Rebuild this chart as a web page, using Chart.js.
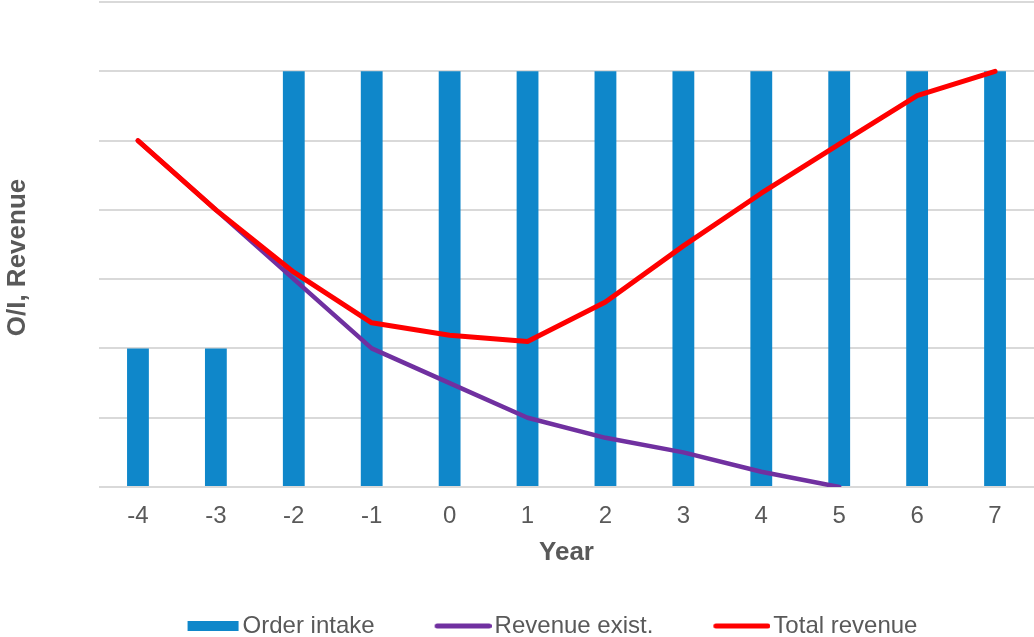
<!DOCTYPE html>
<html lang="en">
<head>
<meta charset="utf-8">
<title>Order intake and revenue</title>
<script src="https://cdn.jsdelivr.net/npm/chart.js@4.4.1/dist/chart.umd.min.js"></script>
<style>
    html, body { margin: 0; padding: 0; background: #fff; }
    #chart { display: block; }
</style>
</head>
<body>
<canvas id="chart" width="1034" height="637"></canvas>
<script>
    // data (y axis has no labels, gridlines = 1 unit)
    var years = ['-4', '-3', '-2', '-1', '0', '1', '2', '3', '4', '5', '6', '7'];
    var orderIntake = [2, 2, 6, 6, 6, 6, 6, 6, 6, 6, 6, 6];
    var revenueExist = [5, 4, 3, 2, 1.5, 1, 0.71, 0.5, 0.22, 0, null, null];
    var totalRevenue = [5, 4, 3.1, 2.37, 2.19, 2.1, 2.67, 3.48, 4.24, 4.95, 5.65, 6];

    var textColor = '#595959';
    var gridColor = '#d9d9d9';
    var fontFamily = "'Liberation Sans', Arial, sans-serif";

    // legend keys: a wide box for the bars, a short thick line for the lines
    function makeKey(kind, color) {
        var c = document.createElement('canvas');
        c.width = 118;
        c.height = 12;
        var g = c.getContext('2d');
        if (kind === 'box') {
            g.fillStyle = color;
            g.fillRect(66, 1, 51, 10);
        } else {
            g.strokeStyle = color;
            g.lineWidth = 5;
            g.lineCap = 'round';
            g.beginPath();
            g.moveTo(63.5, 6);
            g.lineTo(115.5, 6);
            g.stroke();
        }
        return c;
    }

    var keys = [
        makeKey('box', '#0f87ca'),
        makeKey('line', '#7030a0'),
        makeKey('line', '#ff0000')
    ];

    // nudge the legend a bit lower / right, like the original
    var legendNudge = {
        id: 'legendNudge',
        afterLayout: function (chart) {
            var l = chart.legend;
            l.top += 11; l.bottom += 11;
            l.left += 7; l.right += 7;
        }
    };

    new Chart(document.getElementById('chart'), {
        type: 'bar',
        data: {
            labels: years,
            datasets: [{
                label: 'Order intake',
                data: orderIntake,
                backgroundColor: '#0f87ca',
                categoryPercentage: 1,
                barPercentage: 0.28,
                order: 3
            }, {
                type: 'line',
                label: 'Revenue exist.',
                data: revenueExist,
                borderColor: '#7030a0',
                backgroundColor: '#7030a0',
                borderWidth: 4.5,
                pointRadius: 0,
                borderCapStyle: 'round',
                borderJoinStyle: 'round',
                tension: 0,
                order: 2
            }, {
                type: 'line',
                label: 'Total revenue',
                data: totalRevenue,
                borderColor: '#ff0000',
                backgroundColor: '#ff0000',
                borderWidth: 5,
                pointRadius: 0,
                borderCapStyle: 'round',
                borderJoinStyle: 'round',
                tension: 0,
                order: 1
            }]
        },
        options: {
            responsive: false,
            animation: false,
            layout: { padding: { top: 2, right: 0, bottom: 0, left: 0 } },
            plugins: {
                tooltip: { enabled: false },
                legend: {
                    position: 'bottom',
                    labels: {
                        usePointStyle: true,
                        pointStyleWidth: 100,
                        padding: 8,
                        color: textColor,
                        font: { family: fontFamily, size: 24 },
                        generateLabels: function (chart) {
                            return chart.data.datasets.map(function (ds, i) {
                                return {
                                    text: ds.label,
                                    pointStyle: keys[i],
                                    fillStyle: ds.backgroundColor,
                                    strokeStyle: ds.backgroundColor,
                                    lineWidth: 0,
                                    hidden: false,
                                    fontColor: textColor,
                                    datasetIndex: i
                                };
                            });
                        }
                    }
                }
            },
            scales: {
                x: {
                    grid: { display: false, drawTicks: false },
                    border: { display: false },
                    ticks: {
                        color: textColor,
                        padding: 15,
                        font: { family: fontFamily, size: 24 }
                    },
                    title: {
                        display: true,
                        text: 'Year',
                        color: textColor,
                        font: { family: fontFamily, size: 26, weight: 'bold' },
                        padding: { top: 0, bottom: 27 }
                    },
                    afterFit: function (scale) { scale.height = 108; }
                },
                y: {
                    min: 0,
                    max: 7,
                    ticks: { display: false, stepSize: 1 },
                    grid: { color: gridColor, lineWidth: 2, drawTicks: false },
                    border: { display: false },
                    title: {
                        display: true,
                        text: 'O/I, Revenue\u2002\u2002',
                        color: textColor,
                        font: { family: fontFamily, size: 26, weight: 'bold' },
                        padding: { top: 2, bottom: 0 }
                    },
                    afterFit: function (scale) { scale.width = 99; }
                }
            }
        },
        plugins: [legendNudge]
    });
</script>
</body>
</html>
